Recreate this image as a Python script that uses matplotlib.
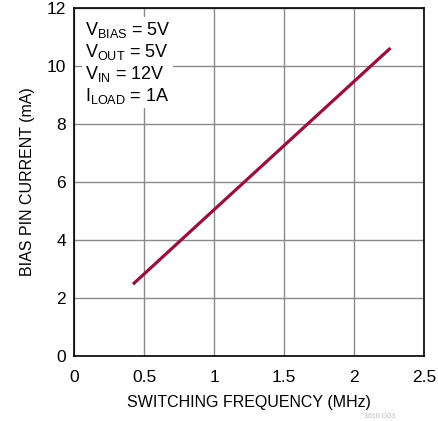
import matplotlib; matplotlib.use("Agg")
import matplotlib.pyplot as plt

freq_mhz = [0.42, 1.0, 2.26]
bias_ma = [2.48, 5.05, 10.62]
x_ticks = [0, 0.5, 1, 1.5, 2, 2.5]
x_labels = ["0", "0.5", "1", "1.5", "2", "2.5"]
y_ticks = [0, 2, 4, 6, 8, 10, 12]
conditions = r"$\mathregular{V_{BIAS}}$ = 5V" "\n" r"$\mathregular{V_{OUT}}$ = 5V" "\n" \
             r"$\mathregular{V_{IN}}$ = 12V" "\n" r"$\mathregular{I_{LOAD}}$ = 1A"

plt.rcParams["font.family"] = ["Liberation Sans", "DejaVu Sans"]
plt.rcParams.update({"mathtext.fontset": "custom", "mathtext.rm": "Liberation Sans"})
fig = plt.figure(figsize=(4.39, 4.21), dpi=100)
ax = fig.add_axes([0.169, 0.154, 0.797, 0.827])
ax.plot(freq_mhz, bias_ma, color="#9b0f3a", lw=2.3, solid_capstyle="butt")
ax.set_xlim(0, 2.5); ax.set_ylim(0, 12)
ax.set_xticks(x_ticks); ax.set_xticklabels(x_labels)
ax.set_yticks(y_ticks)
ax.tick_params(length=0, labelsize=12.5, pad=6)
ax.tick_params(axis="x", pad=10)
ax.grid(True, color="#8a8a8a", lw=1)
for s in ax.spines.values(): s.set_linewidth(1.2)
ax.set_xlabel("SWITCHING FREQUENCY (MHz)", fontsize=11.5, labelpad=7)
ax.set_ylabel("BIAS PIN CURRENT (mA)", fontsize=11.5, labelpad=8)
ax.text(0.03, 0.965, conditions, transform=ax.transAxes, va="top", ha="left",
        fontsize=13, linespacing=1.12,
        bbox=dict(facecolor="white", edgecolor="none", pad=2))
fig.text(0.9, 0.002, "3610 G03", ha="right", va="bottom", fontsize=5, color="#bbbbbb")
fig.savefig("out.png", dpi=100)
